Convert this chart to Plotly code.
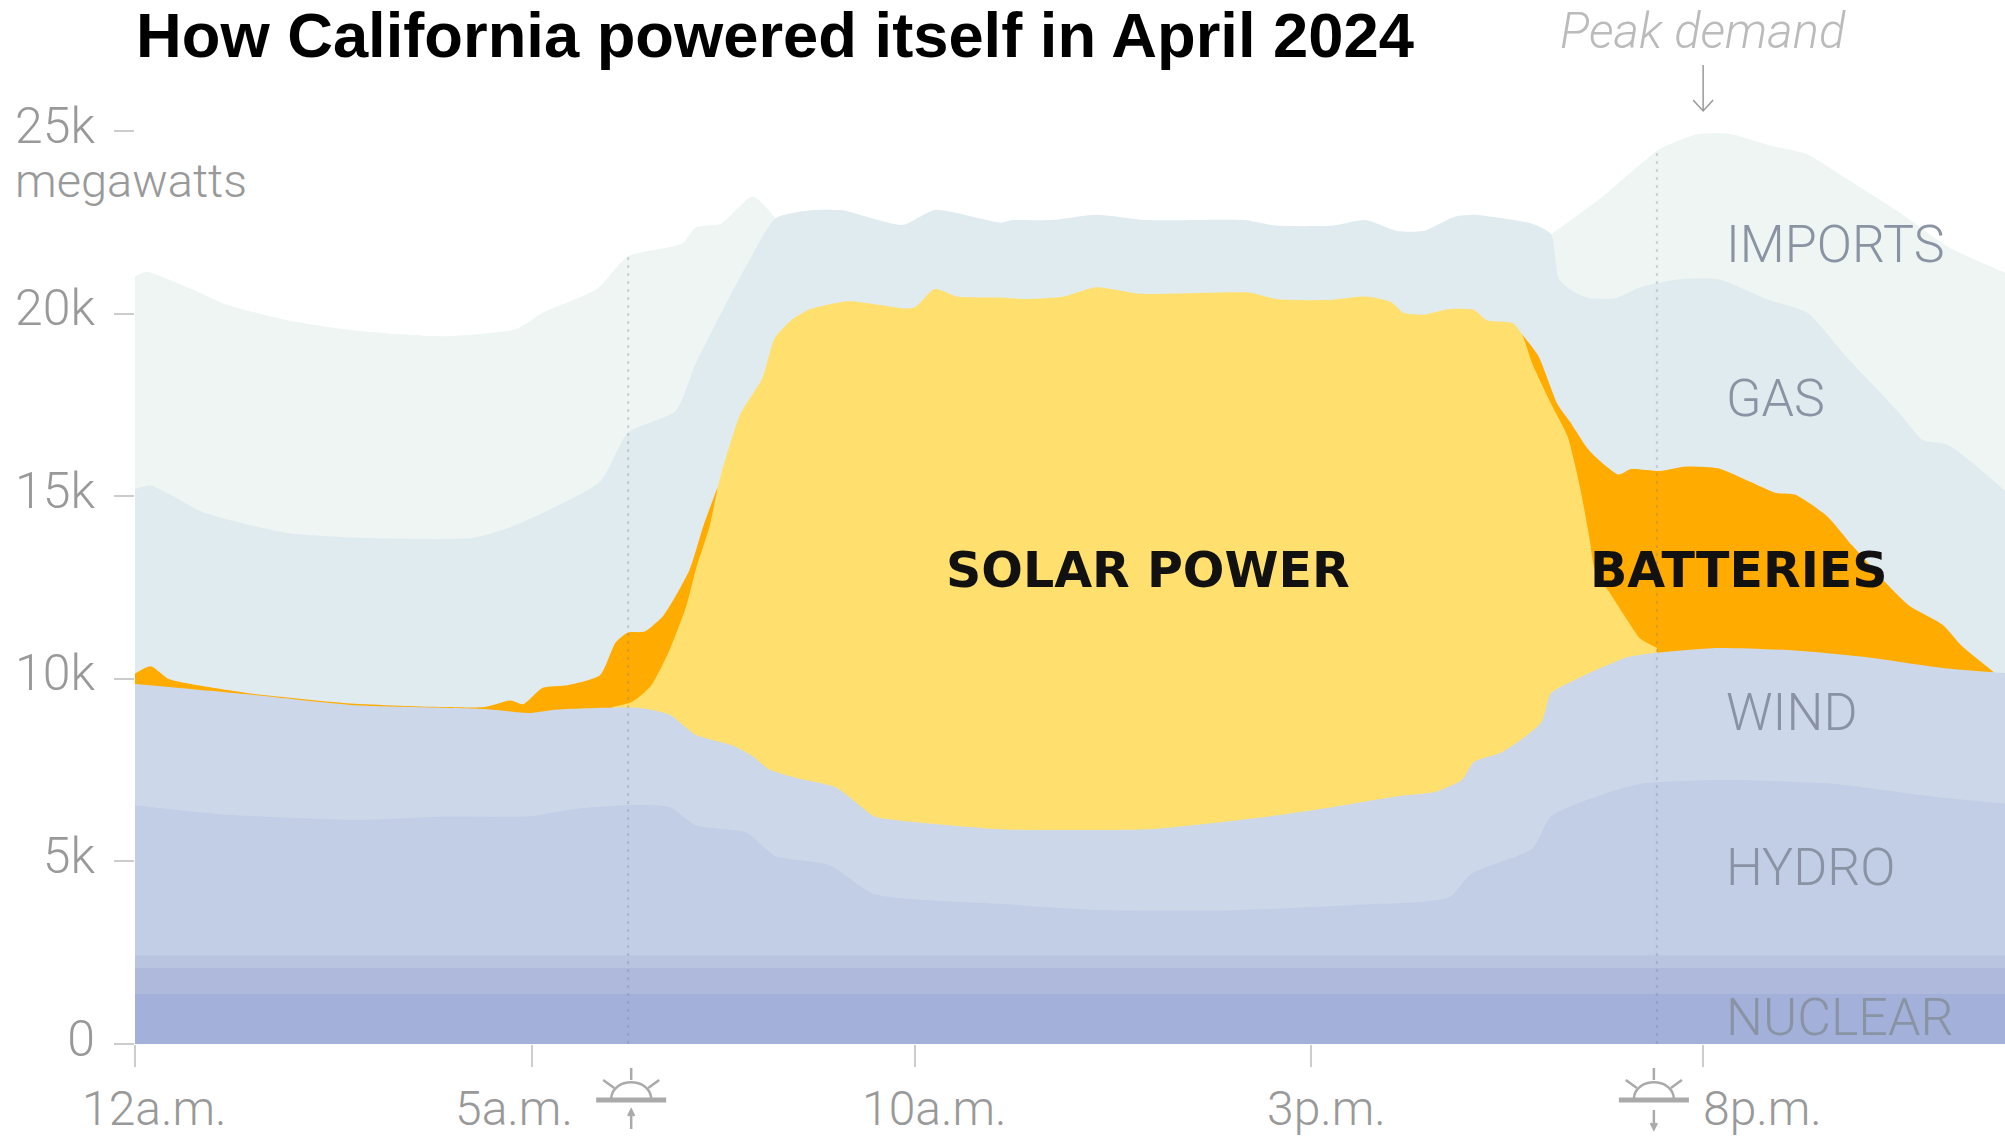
import plotly.graph_objects as go

# Boundaries between stacked sources: hour of day, cumulative thousands of MW
nuclear_top = 1.37
other_low_top = 2.08
other_high_top = 2.43
hours_end = 23.85

hydro_h = [0,1.13,2.84,3.97,5.03,5.6,6.25,6.82,7.15,7.8,8.17,8.86,9.43,11.04,12.26,13.89,15.53,16.75,17.04,17.82,18.06,18.72,19.2,20.27,21.66,22.89,23.85]
hydro_v = [6.54,6.29,6.14,6.24,6.24,6.44,6.54,6.49,5.99,5.79,5.15,4.9,4.11,3.84,3.68,3.66,3.81,4.01,4.66,5.35,6.24,6.84,7.13,7.23,7.13,6.79,6.59]

wind_h = [0,1.53,2.75,4.46,5.03,5.36,6.41,6.82,7.15,7.63,7.88,8.08,8.45,8.94,9.43,9.67,11.04,12.09,12.99,14.3,15.12,16.1,16.59,16.92,17.08,17.41,17.73,17.94,18.06,18.39,19.04,19.41,20.19,21.17,22.07,23.05,23.85]
wind_v = [9.86,9.56,9.29,9.18,9.07,9.16,9.21,9.02,8.47,8.17,7.88,7.53,7.28,7.03,6.24,6.14,5.88,5.86,5.89,6.19,6.44,6.79,6.91,7.23,7.73,7.97,8.42,8.82,9.61,10.0,10.6,10.72,10.85,10.78,10.6,10.3,10.16]

solar_h = [6.09,6.33,6.58,6.82,7.03,7.15,7.33,7.45,7.5,7.72,8.0,8.16,8.37,8.61,9.1,9.83,9.95,10.2,10.48,11.03,11.36,11.85,12.26,12.83,14.22,14.55,15.2,15.69,16.02,16.18,16.43,16.75,17.08,17.24,17.57,17.69,17.82,18.06,18.27,18.43,18.55,18.62,18.8,19.04,19.2,19.41]
solar_v = [9.23,9.36,9.81,10.8,11.99,12.98,14.2,15.4,15.8,17.25,18.24,19.34,19.83,20.13,20.35,20.15,20.18,20.68,20.48,20.45,20.41,20.48,20.73,20.55,20.58,20.41,20.38,20.48,20.33,20.03,19.98,20.13,20.11,19.83,19.75,19.44,18.64,17.54,16.65,15.25,13.86,12.98,12.39,11.59,11.1,10.85]

battery_am_h = [0,0.2,0.43,0.8,1.53,2.75,3.97,4.46,4.79,4.95,5.2,5.52,5.93,6.13,6.29,6.5,6.74,7.07,7.25,7.43]
battery_am_v = [10.15,10.35,10.0,9.83,9.59,9.33,9.23,9.23,9.41,9.31,9.76,9.83,10.1,11.0,11.27,11.3,11.74,12.98,14.2,15.25]
battery_pm_h = [17.69,17.9,18.14,18.3,18.55,18.92,19.08,19.45,19.78,20.19,20.6,20.92,21.17,21.58,21.9,22.31,22.64,23.05,23.3,23.7]
battery_pm_v = [19.44,18.84,17.54,17.05,16.25,15.6,15.75,15.7,15.82,15.77,15.4,15.1,15.05,14.46,13.66,12.68,11.99,11.49,10.9,10.2]

gas_h = [0,0.2,0.88,1.94,3.0,4.3,4.79,5.93,6.29,6.9,7.15,7.55,7.8,8.17,8.61,9.02,9.79,10.2,11.04,11.19,11.68,12.26,12.91,14.14,14.55,15.28,15.69,16.1,16.43,16.84,17.08,17.82,18.06,18.16,18.35,18.55,18.88,19.2,19.7,20.19,20.84,21.33,21.82,22.48,22.8,23.13,23.85]
gas_v = [15.2,15.3,14.56,14.0,13.86,13.86,14.16,15.4,16.75,17.35,18.64,20.33,21.33,22.62,22.84,22.84,22.44,22.85,22.5,22.57,22.57,22.72,22.57,22.57,22.42,22.42,22.57,22.27,22.27,22.67,22.72,22.47,22.18,20.95,20.6,20.43,20.43,20.73,20.95,20.95,20.38,20.03,18.84,17.34,16.55,16.4,15.15]

imports_am_h = [0,0.15,0.72,1.13,1.94,2.83,3.97,4.87,5.2,5.89,6.29,6.98,7.15,7.47,7.88,8.17]
imports_am_v = [21.03,21.15,20.68,20.28,19.83,19.54,19.39,19.59,20.03,20.68,21.58,21.93,22.37,22.47,23.22,22.62]
imports_pm_h = [18.06,18.72,19.45,19.94,20.35,20.84,21.33,21.82,22.48,23.13,23.85]
imports_pm_v = [22.18,23.22,24.52,24.93,24.93,24.62,24.37,23.72,22.82,21.83,21.13]

sunrise_hour, sunrise_top = 6.29, 21.58
sunset_hour, sunset_top = 19.41, 24.52
peak_hour = 20.0

y_ticks = [0, 5, 10, 15, 20, 25]
y_labels = ["0", "5k", "10k", "15k", "20k", "25k"]
x_ticks = [0, 5.06, 9.95, 15, 20]
x_labels = ["12a.m.", "5a.m.", "10a.m.", "3p.m.", "8p.m."]
x_label_shift = [19, -18, 19, 15, 59]

source_labels = ["IMPORTS", "GAS", "WIND", "HYDRO", "NUCLEAR"]
source_label_y = [244, 398, 712, 867, 1017]

FONT = "Roboto"
C_IMPORTS, C_GAS, C_SOLAR, C_BATT = "#eef5f2", "#e0ebf0", "#ffe06e", "#ffab00"
C_WIND, C_HYDRO, C_HI, C_LO, C_NUC = "#ccd8e9", "#c2cee6", "#b8c4e0", "#aeb9dc", "#a2b0da"

fig = go.Figure()

def area(h, v, color, smooth=True):
    line = dict(width=0, shape="spline", smoothing=0.6) if smooth else dict(width=0)
    fig.add_trace(go.Scatter(x=h, y=v, mode="lines", line=line, fill="tozeroy",
                             fillcolor=color, hoverinfo="skip", showlegend=False))

area(imports_am_h, imports_am_v, C_IMPORTS)
area(imports_pm_h, imports_pm_v, C_IMPORTS)
area(gas_h, gas_v, C_GAS)
area(battery_am_h, battery_am_v, C_BATT)
area(battery_pm_h, battery_pm_v, C_BATT)
area(solar_h, solar_v, C_SOLAR)
area(wind_h, wind_v, C_WIND)
area(hydro_h, hydro_v, C_HYDRO)
area([0, hours_end], [other_high_top] * 2, C_HI, False)
area([0, hours_end], [other_low_top] * 2, C_LO, False)
area([0, hours_end], [nuclear_top] * 2, C_NUC, False)

for hour, top in [(sunrise_hour, sunrise_top), (sunset_hour, sunset_top)]:
    fig.add_trace(go.Scatter(x=[hour, hour], y=[0, top], mode="lines",
                             line=dict(width=2, color="rgba(110,120,140,0.28)", dash="3px 5px"),
                             hoverinfo="skip", showlegend=False))

annotations = [
    dict(text="<b>How California powered itself in April 2024</b>", xref="paper", yref="paper",
         x=0, xshift=-1, y=1, yshift=-35, xanchor="left", yanchor="middle", showarrow=False,
         font=dict(family="Liberation Sans", size=63.3, color="#000")),
    dict(text="megawatts", xref="paper", yref="paper", x=0, xshift=-122, y=1, yshift=-180,
         xanchor="left", yanchor="middle", showarrow=False,
         font=dict(family=FONT, size=47, color="#999", weight=300)),
    dict(text="<i>Peak demand</i>", xref="x", yref="paper", x=peak_hour, y=1, yshift=-31,
         yanchor="middle", showarrow=False, font=dict(family=FONT, size=49, color="#bbb", weight=300)),
    dict(text="<b>SOLAR POWER</b>", xref="paper", yref="paper", x=0, xshift=1013, y=1, yshift=-570,
         xanchor="center", yanchor="middle", showarrow=False,
         font=dict(family="DejaVu Sans", size=49, color="#111")),
    dict(text="<b>BATTERIES</b>", xref="paper", yref="paper", x=0, xshift=1604, y=1, yshift=-570,
         xanchor="center", yanchor="middle", showarrow=False,
         font=dict(family="DejaVu Sans", size=49, color="#111")),
]
for name, ypx in zip(source_labels, source_label_y):
    annotations.append(dict(text=name, xref="paper", yref="paper", x=0, xshift=1589, y=1, yshift=-ypx,
                            xanchor="left", yanchor="middle", showarrow=False,
                            font=dict(family=FONT, size=52, color="#8a93a3", weight=300)))
for tick, label, shift in zip(x_ticks, x_labels, x_label_shift):
    annotations.append(dict(text=label, xref="x", yref="paper", x=tick, xshift=shift, y=0, yshift=-64,
                            yanchor="middle", showarrow=False,
                            font=dict(family=FONT, size=48, color="#999", weight=300)))

GREY = "#aaa"

def sun_icon(hour, up, dx=0):
    # icon in pixels below the axis, y measured upward from the plot bottom
    common = dict(type="path", xref="x", xsizemode="pixel", xanchor=hour, yref="paper",
                  ysizemode="pixel", yanchor=0, layer="above")
    paths = [
        (f"M{dx-35},-56 L{dx+35},-56", 5),
        (f"M{dx-20},-54 C{dx-18},-33 {dx+18},-33 {dx+20},-54", 2.5),
        (f"M{dx},-24 L{dx},-36", 2.5),
        (f"M{dx-28},-36 L{dx-17},-44", 2.5),
        (f"M{dx+28},-36 L{dx+17},-44", 2.5),
    ]
    if up:
        paths.append((f"M{dx},-85 L{dx},-66 M{dx-3},-72 L{dx},-66 L{dx+3},-72", 2.5))
    else:
        paths.append((f"M{dx},-66 L{dx},-85 M{dx-3},-79 L{dx},-85 L{dx+3},-79", 2.5))
    return [dict(path=p, line=dict(color=GREY, width=w), **common) for p, w in paths]

peak_arrow = dict(type="path", xref="x", xsizemode="pixel", xanchor=peak_hour, yref="paper",
                  ysizemode="pixel", yanchor=1, layer="above",
                  path="M0,-65 L0,-111 M-10,-100 L0,-111 L10,-100",
                  line=dict(color="#999", width=1.5))

fig.update_layout(
    width=2005, height=1137, autosize=False,
    margin=dict(l=135, r=0, t=0, b=93),
    paper_bgcolor="#fff", plot_bgcolor="#fff", showlegend=False,
    xaxis=dict(range=[0, hours_end], tickvals=x_ticks, showticklabels=False, ticks="outside",
               ticklen=22, tickwidth=2, tickcolor="#ccc", showgrid=False, zeroline=False, showline=False),
    yaxis=dict(range=[0, 28.6], tickvals=y_ticks, ticktext=y_labels, ticks="outside", ticklen=20,
               tickwidth=2, tickcolor="#ccc", showgrid=False, zeroline=False, showline=False,
               ticklabelstandoff=9, ticklabelshift=-6,
               tickfont=dict(family=FONT, size=50, color="#999", weight=300)),
    annotations=annotations,
    shapes=sun_icon(sunrise_hour, True, 3) + sun_icon(sunset_hour, False, -3) + [peak_arrow],
)

fig.write_html("out.html", config=dict(displayModeBar=False),
               post_script="document.body.style.margin='0';")
